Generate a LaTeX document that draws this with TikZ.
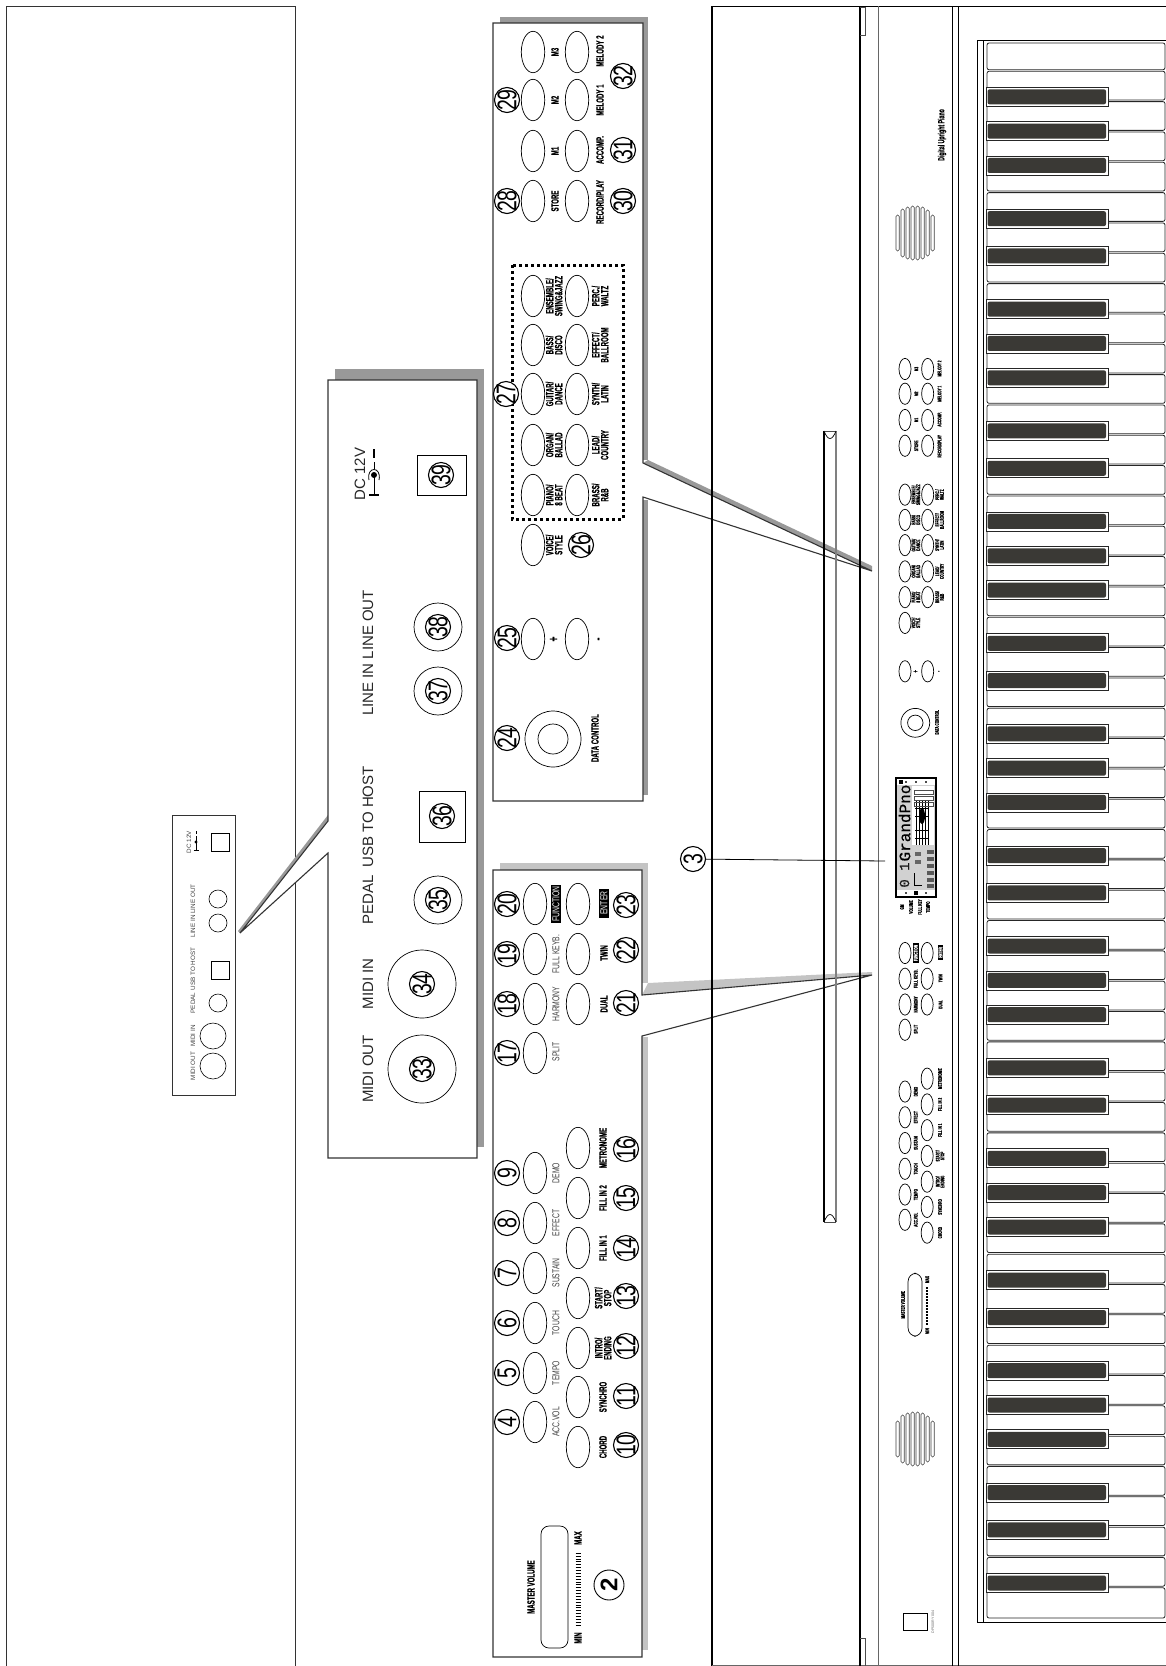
\documentclass[tikz,border=0pt]{standalone}
\usepackage{fontspec}
\setmainfont{Liberation Sans}
\newfontfamily\lblbold[FakeStretch=.58,FakeBold=.6]{Liberation Sans Bold}
\newfontfamily\lblthin[FakeStretch=.68]{Liberation Sans}
\newfontfamily\numfont[FakeStretch=.72]{Liberation Sans}
\newfontfamily\lcdfont[FakeBold=.5]{Liberation Mono}
\usetikzlibrary{shapes.geometric}
\definecolor{shA}{HTML}{999999}
\definecolor{shB}{HTML}{C4C4C4}
\definecolor{ink}{HTML}{333333}
\definecolor{keyblack}{HTML}{3A3935}
\tikzset{
 btn/.style={ellipse,draw=black,line width=.7,minimum width=23.4,minimum height=41.4,inner sep=0},
 lab/.style={inner sep=0,rotate=90,align=center,font=\lblbold\fontsize{10.5}{9}\selectfont},
 thinlab/.style={inner sep=0,rotate=90,align=center,text=black!75,font=\lblthin\fontsize{10}{9}\selectfont},
 numc/.style={circle,draw=black,fill=white,line width=1.1,minimum size=25,inner sep=0,rotate=90},
 numt/.style={inner sep=0,rotate=90,font=\numfont\fontsize{27}{27}\selectfont},
 rearlab/.style={inner sep=0,rotate=90,text=black!85,font=\fontsize{15}{15}\selectfont},
 smalllab/.style={inner sep=0,rotate=90,text=black!75,font=\fontsize{6.3}{6.3}\selectfont},
 port/.style={circle,draw=black,line width=.6,inner sep=0},
 panel/.style={draw=ink,fill=white,line width=1.1},
 wkey/.style={draw=black!85,fill=white,line width=.8,rounded corners=2},
}
\newcommand\numbered[3]{%
 \node[numc] (n#3) at (#1,#2) {};
 \node[numt] (t#3) at (#1,#2) {#3};
}
% --- voice / style panel content (drawn in large coordinates, re-used for the small copy)
\newcommand\panelA[1]{%
 \foreach \y/\n in {52/a,100/b,151/c,201/d,296/e,345/f,394/g,445/h,495/i,545/j,639/k}
   \node[btn] (#1t\n) at (533,\y) {};
 \foreach \y/\n in {52/a,100/b,151/c,201/d,296/e,345/f,394/g,445/h,495/i,639/k}
   \node[btn] (#1u\n) at (577,\y) {};
 \node[circle,draw=black,line width=.7,minimum size=56,inner sep=0] (#1dco) at (553,739) {};
 \node[circle,draw=black,line width=.7,minimum size=30,inner sep=0] (#1dci) at (553,739) {};
 \node[lab] (#1l1) at (555,52) {M3};
 \node[lab] (#1l2) at (555,100) {M2};
 \node[lab] (#1l3) at (555,151) {M1};
 \node[lab] (#1l4) at (555,201) {STORE};
 \node[lab] (#1l5) at (554,296) {ENSEMBLE/\\SWING\&JAZZ};
 \node[lab] (#1l6) at (554,345) {BASS/\\DISCO};
 \node[lab] (#1l7) at (554,394) {GUITAR/\\DANCE};
 \node[lab] (#1l8) at (554,445) {ORGAN/\\BALLAD};
 \node[lab] (#1l9) at (554,495) {PIANO/\\8 BEAT};
 \node[lab] (#1l10) at (554,545) {VOICE/\\STYLE};
 \node[lab] (#1l11) at (600,51) {MELODY 2};
 \node[lab] (#1l12) at (600,100) {MELODY 1};
 \node[lab] (#1l13) at (600,150) {ACCOMP.};
 \node[lab] (#1l14) at (600,202) {RECORD/PLAY};
 \node[lab] (#1l15) at (600,296) {PERC./\\WALTZ};
 \node[lab] (#1l16) at (600,345) {EFFECT/\\BALLROOM};
 \node[lab] (#1l17) at (600,394) {SYNTH/\\LATIN};
 \node[lab] (#1l18) at (600,445) {LEAD/\\COUNTRY};
 \node[lab] (#1l19) at (600,495) {BRASS/\\R\&B};
 \node[lab,font=\lblbold\fontsize{14}{14}\selectfont] (#1l20) at (554,639) {+};
 \node[lab,font=\lblbold\fontsize{14}{14}\selectfont] (#1l21) at (600,639) {-};
 \node[lab] (#1l22) at (595,738) {DATA CONTROL};
}
% --- left panel content
\newcommand\panelB[1]{%
 \foreach \y/\n in {904/a,954/b,1004/c,1053/d,1173/e,1223/f,1273/g,1323/h,1373/i,1422/j}
   \node[btn] (#1t\n) at (535,\y) {};
 \foreach \y/\n in {904/a,954/b,1004/c,1148/e,1198/f,1248/g,1298/h,1348/i,1397/j,1447/k}
   \node[btn] (#1u\n) at (578,\y) {};
 \node[thinlab,fill=black,text=white,inner xsep=1.5,inner ysep=1.5,minimum width=38] (#1m1) at (556,904) {FUNCTION};
 \node[thinlab] (#1m2) at (556,954) {FULL KEYB.};
 \node[thinlab] (#1m3) at (556,1004) {HARMONY};
 \node[thinlab] (#1m4) at (556,1052) {SPLIT};
 \node[thinlab] (#1m5) at (556,1173) {DEMO};
 \node[thinlab] (#1m6) at (556,1223) {EFFECT};
 \node[thinlab] (#1m7) at (556,1273) {SUSTAIN};
 \node[thinlab] (#1m8) at (556,1323) {TOUCH};
 \node[thinlab] (#1m9) at (556,1373) {TEMPO};
 \node[thinlab] (#1m10) at (556,1422) {ACC.VOL};
 \node[thinlab,fill=black,text=white,inner xsep=1.5,inner ysep=1.5,minimum width=29] (#1m11) at (604,903) {ENTER};
 \node[lab] (#1m12) at (604,953) {TWIN};
 \node[lab] (#1m13) at (604,1004) {DUAL};
 \node[lab] (#1m14) at (603,1148) {METRONOME};
 \node[lab] (#1m15) at (603,1198) {FILL IN 2};
 \node[lab] (#1m16) at (603,1248) {FILL IN 1};
 \node[lab] (#1m17) at (603,1298) {START/\\STOP};
 \node[lab] (#1m18) at (603,1348) {INTRO/\\ENDING};
 \node[lab] (#1m19) at (603,1397) {SYNCHRO};
 \node[lab] (#1m20) at (603,1447) {CHORD};
 \draw[draw=black,line width=.7,rounded corners=8] (541,1526) rectangle (568,1648);
 \node[lab] (#1m21) at (531,1587) {MASTER VOLUME};
 \node[lab] (#1m22) at (578,1638) {MIN};
 \node[lab] (#1m23) at (578,1538) {MAX};
 \foreach \t in {0,...,25}
   \draw[line width=.5] (575.5,1553+2.88*\t) -- (580.5,1553+2.88*\t);
}
% --- speaker
\newcommand\speaker[1]{%
 \foreach \x/\h in {896/18,901/24,906/26,911/27,916/27,921/26,926/23,931/18}
   \draw[draw=black!75,line width=.6,rounded corners=1.5] (\x,#1-\h) rectangle (\x+3.2,#1+\h);
}
\begin{document}
\begin{tikzpicture}[x=1pt,y=-1pt]
\useasboundingbox (0,0) rectangle (1166,1666);
% ---------- blank sheet at the left
\draw[line width=.9,draw=black!80] (6,1666) -- (6,6) -- (295,6) -- (295,1666);

% ---------- small rear panel
\coordinate (rearTip) at (240,933);
\draw[draw=ink,line width=.9,fill=white] (172,815) rectangle (235,1095);
\node[port,minimum size=26] (sp33) at (213,1066) {};
\node[port,minimum size=26] (sp34) at (213,1036) {};
\node[port,minimum size=18] (sp35) at (218,1003) {};
\draw[line width=.6] (211,961) rectangle (229,979);
\node[port,minimum size=18] (sp37) at (218,923) {};
\node[port,minimum size=18] (sp38) at (218,899) {};
\draw[line width=.6] (211,833) rectangle (229,851);
\node[smalllab] (st1) at (193,1066) {MIDI OUT};
\node[smalllab] (st2) at (193,1036) {MIDI IN};
\node[smalllab] (st3) at (193,1003) {PEDAL};
\node[smalllab] (st4) at (193,969) {USB TO HOST};
\node[smalllab] (st5) at (193,911) {LINE IN LINE OUT};
\node[smalllab] (st6) at (189,842) {DC 12V};
\draw[line width=.6] (196,836) -- (196,850);
\fill (196,842) circle (1.6);
\draw[line width=.6] (193.5,850) -- (198.5,850);
\draw[line width=.6] (196,831) -- (196,834);

% ---------- enlarged rear panel
\coordinate (bU) at (328,821);
\coordinate (bL) at (328,853);
\fill[shA] (335,369) rectangle (484,1147);
\fill[shA] (328,815) -- (238,931) -- (rearTip) -- (bU) -- cycle;
\draw[panel] (328,380) -- (477,380) -- (477,1158) -- (328,1158) -- (bL) -- (rearTip) -- (bU) -- cycle;
\node[port,minimum size=68,line width=.7] (p33) at (422,1069) {};
\node[port,minimum size=68,line width=.7] (p34) at (422,984) {};
\node[port,minimum size=48,line width=.7] (p35) at (438,900) {};
\draw[line width=.7] (419,791) rectangle (465,842);
\node[port,minimum size=48,line width=.7] (p37) at (438,691) {};
\node[port,minimum size=48,line width=.7] (p38) at (438,627) {};
\draw[line width=.7] (417,455) rectangle (466,495);
\numbered{422}{1069}{33}
\numbered{422}{984}{34}
\numbered{438}{900}{35}
\numbered{442}{816}{36}
\numbered{438}{691}{37}
\numbered{438}{627}{38}
\numbered{441}{475}{39}
\node[rearlab] (r1) at (368,1069) {MIDI OUT};
\node[rearlab] (r2) at (368,984) {MIDI IN};
\node[rearlab] (r3) at (368,900) {PEDAL};
\node[rearlab] (r4) at (368,817) {USB TO HOST};
\node[rearlab] (r5) at (368,653) {LINE IN LINE OUT};
\node[rearlab] (r6) at (360,474) {DC 12V};
% DC polarity symbol
\draw[line width=.8] (374,475) -- (374,495);
\draw[line width=.8] (374,462) -- (374,469);
\draw[line width=.8] (369,480) .. controls (366,466) and (382,466) .. (379,480);
\fill (374,475) circle (3);
\draw[line width=1.1] (369,495) -- (379,495);
\draw[line width=1.1] (374,449) -- (374,458);

% ---------- voice/style panel
\coordinate (aU) at (643,463);
\coordinate (aL) at (643,497);
\coordinate (aTip) at (872,571);
\fill[shA] (500,17) rectangle (648,460);
\fill[shA] (500,500) rectangle (648,795);
\fill[shA] (648,460) -- (872,566) -- (aTip) -- (aU) -- cycle;
\draw[panel] (493,23) -- (643,23) -- (aU) -- (aTip) -- (aL) -- (643,801) -- (493,801) -- cycle;
\panelA{A}
\draw[line width=3,dash pattern=on 3pt off 3pt] (512,265) rectangle (623,519);
\numbered{507}{100}{29}
\numbered{507}{201}{28}
\numbered{506}{394}{27}
\numbered{623}{76}{32}
\numbered{623}{150}{31}
\numbered{623}{201}{30}
\numbered{581}{545}{26}
\numbered{507}{638}{25}
\numbered{507}{738}{24}

% ---------- left control panel
\coordinate (cU) at (642,995);
\coordinate (cL) at (642,1036);
\coordinate (cTip) at (872,975);
\fill[shB] (500,863) rectangle (648,983);
\fill[shB] (500,1037) rectangle (648,1650);
\fill[shB] (648,983) -- (872,972) -- (cTip) -- (cU) -- cycle;
\draw[panel] (493,870) -- (642,870) -- (cU) -- (cTip) -- (cL) -- (642,1657) -- (493,1657) -- cycle;
\panelB{B}
\foreach \y/\n in {904/20,954/19,1004/18,1053/17,1173/9,1223/8,1273/7,1323/6,1373/5,1422/4}
  {\numbered{507}{\y}{\n}}
\foreach \y/\n in {905/23,950/22,1003/21,1149/16,1198/15,1248/14,1296/13,1346/12,1396/11,1445/10}
  {\numbered{626}{\y}{\n}}
\node[circle,draw=black,line width=.9,minimum size=30,inner sep=0,rotate=90,font=\bfseries\fontsize{24}{24}\selectfont] (n2) at (609,1585) {2};

% ---------- piano outline
\draw[line width=1.3] (712,1666) -- (712,6.5) -- (1166,6.5);
\draw[line width=.9,draw=black!60] (712,1665) -- (1166,1665);
\draw[line width=1.2] (860,6) -- (860,1666);
\draw[line width=.6,draw=black!70] (860,7) -- (865,7) -- (865,35) -- (860,35);
\draw[line width=.6,draw=black!70] (860,1638) -- (865,1638) -- (865,1666);
\draw[line width=.8,draw=black!60] (878,6) -- (878,1666);
\draw[line width=.9] (952,6) -- (952,1666);
\draw[line width=1] (958,6) -- (958,1666);
% music rest
\draw[line width=1.1,draw=black] (824,431) -- (824,1222);
\draw[line width=1.1,draw=black!50] (836,431) -- (836,1222);
\draw[line width=.7,draw=black!70] (824,431) -- (836,431);
\draw[line width=.7,draw=black!70] (824,1222) -- (836,1222);
\draw[line width=.7,draw=black] (824,431) .. controls (828,441) and (832,441) .. (836,431);
\draw[line width=.7,draw=black] (824,1222) .. controls (828,1212) and (832,1212) .. (836,1222);

% ---------- small copies on the console
\speaker{233}
\speaker{1439}
\node[inner sep=0,rotate=90,font=\lblbold\fontsize{9}{9}\selectfont] (brand) at (942,135) {Digital Upright Piano};
\begin{scope}[shift={(905,369)},scale=.515,shift={(-533,-52)},transform shape]
 \panelA{C}
\end{scope}
\begin{scope}[thinlab/.style={lab},shift={(905,953)},scale=.515,shift={(-535,-904)},transform shape]
 \panelB{D}
\end{scope}
\draw[line width=.7] (903,1613) rectangle (927,1630);
\node[inner sep=0,rotate=90,text=black!60,font=\fontsize{3.6}{4}\selectfont] (model) at (933,1622) {DP500RY 004};

% ---------- display
\coordinate (lcdTip) at (885,861);
\draw[line width=1.9,fill=black!18] (896,778) rectangle (936,897);
\fill[white] (897,779) rectangle (935,785);
\fill[white] (897,890) rectangle (935,896);
\fill[white] (912,786) rectangle (934,845);
\node[inner sep=0,rotate=90,font=\lcdfont\fontsize{16}{16}\selectfont] (lcdname) at (904.5,823) {GrandPno};
\node[inner sep=0,rotate=90,text=black!90,font=\lcdfont\fontsize{14}{15}\selectfont] (lcdnum) at (904.5,875) {0 1};
\foreach \x in {916,919,922,925,928} \draw[line width=.5] (\x,800) -- (\x,845);
\foreach \y in {800,808,816,830,838} \draw[line width=.4] (915,\y) -- (929,\y);
\foreach \y in {790,796,802} \draw[line width=.4,draw=black!70] (914,\y) rectangle (933,\y+4);
\fill (922,816) ellipse (3 and 8);
\foreach \y in {850,857,864,871,878,884} \fill[black!65] (927,\y) rectangle (934,\y+4);
\draw[line width=.7] (914,873) -- (914,885) -- (922,885);
\foreach \y in {852,860} \fill[black!60] (915,\y) rectangle (921,\y+4);
\foreach \x in {905,915,925} {\fill[black!70] (\x,780.5) rectangle (\x+1.5,783);\fill[black!70] (\x,891.5) rectangle (\x+1.5,894);}
\fill (899,780) rectangle (903,784);
\fill (914,891) rectangle (918,895);
\foreach \x/\t/\n in {902/GM/a,911/VOLUME/b,920/FULL KEY/c,928/TEMPO/d}
  \node[lab,scale=.515,transform shape] (lcd\n) at (\x,907) {\t};
% callout 3
\node[numc] (n3) at (693,859) {};
\node[numt] (t3) at (693,859) {3};
\draw[line width=.8] (n3) -- (lcdTip);

% ---------- keybed
\draw[line width=.9] (1166,40) -- (977,40) -- (977,1622) -- (1166,1622);
\draw[line width=.9] (983,40) -- (983,1622);
\foreach \k in {0,...,51}{
  \pgfmathsetmacro\ya{\k==0 ? 43 : 70.5+30.33*(\k-1)+.8}
  \pgfmathsetmacro\yb{\k==51 ? 1618 : 70.5+30.33*\k-.8}
  \draw[wkey] (987,\ya) rectangle (1165,\yb);
}
\foreach \k in {1,...,50}{
  \pgfmathtruncatemacro\m{mod(\k,7)}
  \ifnum\m=0\else\ifnum\m=4\else
    \pgfmathsetmacro\o{\m==1 ? -4 : (\m==2 ? 0 : (\m==3 ? 4 : (\m==5 ? -3.5 : 3.5)))}
    \pgfmathsetmacro\c{70.5+30.33*\k+\o}
    \draw[fill=white,draw=black!85,line width=.8] (986,\c-9.5) rectangle (1108,\c+9.5);
    \fill[keyblack,rounded corners=2] (987.5,\c-7.5) rectangle (1106,\c+7.5);
  \fi\fi
}
\end{tikzpicture}
\end{document}
